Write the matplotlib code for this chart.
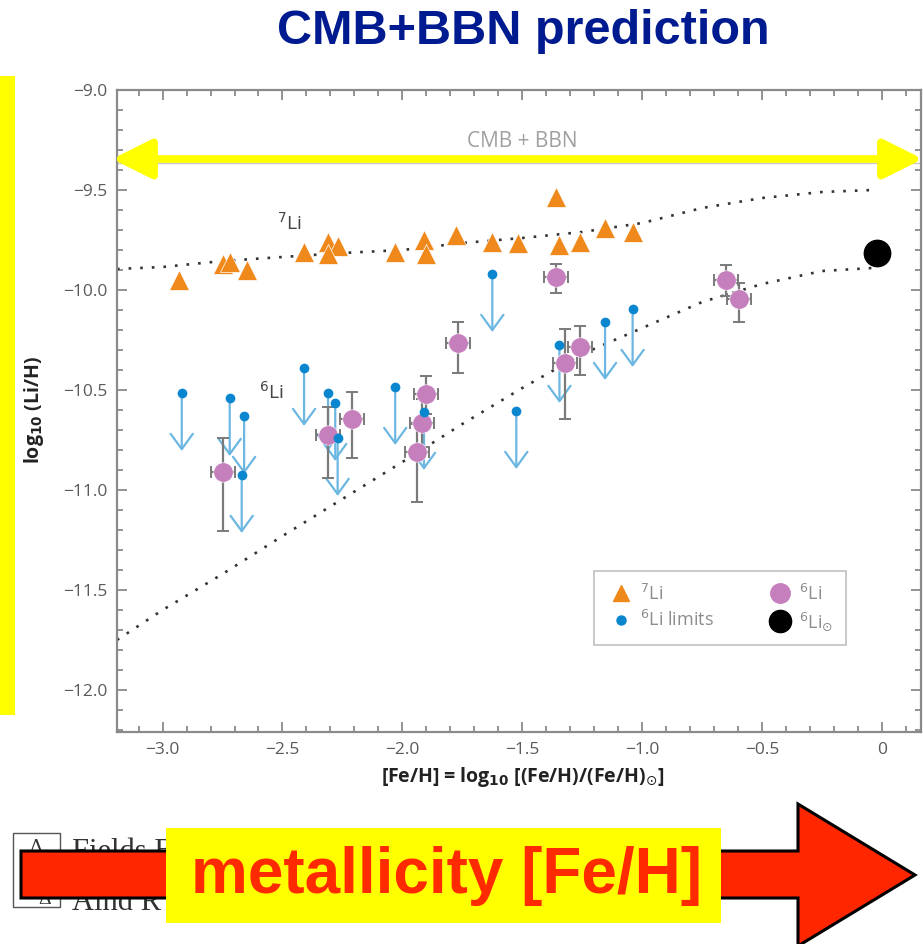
import matplotlib
matplotlib.use("Agg")
import matplotlib.pyplot as plt
from matplotlib.patches import Rectangle, Polygon
from matplotlib.lines import Line2D
from matplotlib.ticker import MultipleLocator, FixedLocator, FixedFormatter

# ---------------- data ----------------
# 7Li abundances (triangles)
li7_feh = [-2.93, -2.75, -2.72, -2.65, -2.41, -2.31, -2.27, -2.31, -2.03, -1.91, -1.90,
           -1.775, -1.625, -1.52, -1.36, -1.345, -1.26, -1.155, -1.04]
li7_val = [-9.95, -9.87, -9.86, -9.90, -9.81, -9.76, -9.78, -9.82, -9.81, -9.75, -9.82,
           -9.725, -9.76, -9.765, -9.535, -9.775, -9.76, -9.69, -9.71]

# 6Li detections with asymmetric errors
li6_feh = [-2.75, -2.31, -2.21, -1.94, -1.92, -1.90, -1.77, -1.36, -1.32, -1.26, -0.65, -0.596]
li6_val = [-10.91, -10.725, -10.645, -10.81, -10.665, -10.52, -10.265, -9.935, -10.365,
           -10.285, -9.95, -10.045]
li6_err_lo = [0.295, 0.215, 0.195, 0.25, 0.12, 0.10, 0.15, 0.08, 0.28, 0.14, 0.08, 0.115]
li6_err_hi = [0.17, 0.14, 0.135, 0.14, 0.12, 0.09, 0.105, 0.065, 0.17, 0.105, 0.075, 0.08]
li6_feh_err = 0.05

# 6Li upper limits
lim_feh = [-2.92, -2.72, -2.66, -2.67, -2.41, -2.31, -2.28, -2.27, -2.03, -1.91,
           -1.625, -1.525, -1.345, -1.155, -1.04]
lim_val = [-10.515, -10.54, -10.63, -10.925, -10.39, -10.515, -10.565, -10.74, -10.485, -10.61,
           -9.92, -10.605, -10.275, -10.16, -10.095]

# solar-system 6Li
sun_feh = [-0.02]
sun_val = [-9.815]

# chemical-evolution model curves
model_feh = [-3.19, -3.0, -2.75, -2.5, -2.25, -2.0, -1.75, -1.5, -1.25, -1.0, -0.75, -0.5, -0.25, -0.04]
model_li7 = [-9.895, -9.885, -9.855, -9.835, -9.815, -9.80, -9.765, -9.74, -9.71, -9.665,
             -9.59, -9.54, -9.51, -9.50]
model_li6 = [-11.75, -11.60, -11.42, -11.23, -11.045, -10.86, -10.67, -10.49, -10.32, -10.19,
             -10.06, -9.97, -9.905, -9.89]

cmb_bbn = -9.345

x_ticks = [-3.0, -2.5, -2.0, -1.5, -1.0, -0.5, 0.0]
x_tick_labels = ["\u22123.0", "\u22122.5", "\u22122.0", "\u22121.5", "\u22121.0", "\u22120.5", "0"]
y_ticks = [-9.0, -9.5, -10.0, -10.5, -11.0, -11.5, -12.0]
y_tick_labels = ["\u22129.0", "\u22129.5", "\u221210.0", "\u221210.5", "\u221211.0", "\u221211.5", "\u221212.0"]

# ---------------- styling ----------------
W, H = 923, 944
ORANGE = "#f0891c"
PURPLE = "#c57fbd"
BLUE_DOT = "#0a86cf"
BLUE_ARROW = "#6cb7e2"
SPINE = "#8a8a8a"
TICKTXT = "#5a5a5a"

plt.rcParams["font.family"] = ["Open Sans", "DejaVu Sans"]
plt.rcParams["mathtext.fontset"] = "dejavusans"

fig = plt.figure(figsize=(W / 100, H / 100), dpi=100)
fig.patch.set_facecolor("white")


def fx(px):
    return px / W


def fy(py):
    return 1 - py / H


ax = fig.add_axes([fx(117), fy(732), fx(921) - fx(117), fy(90) - fy(732)])
ax.set_xlim(-3.19, 0.1625)
ax.set_ylim(-12.21, -9.0)

for s in ax.spines.values():
    s.set_color(SPINE)
    s.set_linewidth(1.6)

ax.xaxis.set_major_locator(FixedLocator(x_ticks))
ax.xaxis.set_major_formatter(FixedFormatter(x_tick_labels))
ax.yaxis.set_major_locator(FixedLocator(y_ticks))
ax.yaxis.set_major_formatter(FixedFormatter(y_tick_labels))
ax.xaxis.set_minor_locator(MultipleLocator(0.1))
ax.yaxis.set_minor_locator(MultipleLocator(0.1))
ax.tick_params(which="both", direction="in", top=True, right=True, color=SPINE, width=1.3)
ax.tick_params(which="major", length=7, labelsize=12.5, labelcolor=TICKTXT, pad=7)
ax.tick_params(which="minor", length=4)

# model curves
ax.plot(model_feh, model_li7, color="#333333", lw=1.9, ls=(0, (1, 3.4)), zorder=2)
ax.plot(model_feh, model_li6, color="#333333", lw=1.9, ls=(0, (1, 3.4)), zorder=2)

# CMB + BBN level
ax.axhline(cmb_bbn - 0.02, color="#c8c8c8", lw=1.0, zorder=1)
ax.annotate("", xy=(-3.21, cmb_bbn), xytext=(0.17, cmb_bbn), xycoords="data",
            arrowprops=dict(arrowstyle="<|-|>,head_length=1.2,head_width=0.6",
                            color="#ffff00", lw=5.5, mutation_scale=20,
                            shrinkA=0, shrinkB=0),
            annotation_clip=False, zorder=3)
ax.text(-1.5, -9.26, "CMB + BBN", color="#a0a0a0", fontsize=15, ha="center", va="center")

# 6Li upper limits: dot with downward arrow
ARROW_LEN = 0.29
for xv, yv in zip(lim_feh, lim_val):
    ax.annotate("", xy=(xv, yv - ARROW_LEN), xytext=(xv, yv),
                arrowprops=dict(arrowstyle="->,head_length=0.55,head_width=0.4",
                                color=BLUE_ARROW, lw=1.6, mutation_scale=20,
                                shrinkA=0, shrinkB=0), zorder=4)

# 6Li detections
ax.errorbar(li6_feh, li6_val, yerr=[li6_err_lo, li6_err_hi], xerr=li6_feh_err,
            fmt="none", ecolor="#7a7a7a", elinewidth=1.6, capsize=4, capthick=1.4, zorder=5)
ax.plot(li6_feh, li6_val, "o", color=PURPLE, ms=14, mec="white", mew=0.4, zorder=6)

ax.plot(lim_feh, lim_val, "o", color=BLUE_DOT, ms=7, mew=0, zorder=7)

# 7Li
ax.plot(li7_feh, li7_val, "^", color=ORANGE, ms=15, mec="white", mew=0.5, zorder=8)

# solar value
ax.plot(sun_feh, sun_val, "o", color="black", ms=19, zorder=9)

# inline labels
ax.text(-2.47, -9.665, r"$^{7}$Li", color="#444444", fontsize=14, ha="center", va="center")
ax.text(-2.545, -10.51, r"$^{6}$Li", color="#444444", fontsize=14, ha="center", va="center")

# legend
handles = [
    Line2D([], [], marker="^", ls="none", color=ORANGE, ms=12),
    Line2D([], [], marker="o", ls="none", color=BLUE_DOT, ms=6.5),
    Line2D([], [], marker="o", ls="none", color=PURPLE, ms=14),
    Line2D([], [], marker="o", ls="none", color="black", ms=16),
]
labels = [r"$^{7}$Li", r"$^{6}$Li limits", r"$^{6}$Li", r"$^{6}$Li$_{\odot}$"]
leg = ax.legend(handles, labels, ncol=2, loc="center",
                bbox_to_anchor=(0.582, 0.126, 0.336, 0.134), mode="expand",
                fontsize=13, frameon=True, fancybox=False, handletextpad=0.25,
                labelspacing=0.35, borderpad=0.7, handlelength=1.6)
leg.get_frame().set_edgecolor("#bdbdbd")
leg.get_frame().set_linewidth(1.4)
for t in leg.get_texts():
    t.set_color("#8c8c8c")

# axis labels
fig.text(fx(34), fy(410), r"log$_{\mathbf{10}}$ (Li/H)", rotation=90, ha="center", va="center",
         fontsize=14, fontweight="bold", color="#222222")
fig.text(fx(523), fy(777), r"[Fe/H] = log$_{\mathbf{10}}$ [(Fe/H)/(Fe/H)$_{\odot}$]",
         ha="center", va="center", fontsize=14, fontweight="bold", color="#222222")

# title
fig.text(fx(523), fy(31), "CMB+BBN prediction", ha="center", va="center",
         fontsize=35, fontweight="bold", color="#001a8f", family="Liberation Sans")

# yellow bar at the left edge
fig.patches.append(Rectangle((0, fy(715)), fx(15), fy(76) - fy(715),
                             transform=fig.transFigure, facecolor="#ffff00",
                             edgecolor="none", zorder=1))

# caption fragment beneath the arrow
fig.patches.append(Rectangle((fx(13), fy(907)), fx(60) - fx(13), fy(833) - fy(907),
                             transform=fig.transFigure, facecolor="none",
                             edgecolor="#555555", lw=1.0, zorder=1))
fig.text(fx(36), fy(848), "\u0394", ha="center", va="center", fontsize=14,
         color="#333333", family="Liberation Serif", zorder=1)
fig.text(fx(45), fy(900), "\u0394", ha="center", va="center", fontsize=14,
         color="#333333", family="Liberation Serif", zorder=1)
fig.text(fx(72), fy(853), "Fields B", ha="left", va="center", fontsize=22,
         color="#333333", family="Liberation Serif", zorder=1)
fig.text(fx(72), fy(903), "Alnd R", ha="left", va="center", fontsize=22,
         color="#333333", family="Liberation Serif", zorder=1)

# red arrow
arrow_px = [(21, 851), (798, 851), (798, 804), (915, 875), (798, 946), (798, 898), (21, 898)]
fig.patches.append(Polygon([(fx(a), fy(b)) for a, b in arrow_px], closed=True,
                           transform=fig.transFigure, facecolor="#ff2600",
                           edgecolor="black", lw=2.2, zorder=5))

# yellow label box and text
fig.patches.append(Rectangle((fx(166), fy(923)), fx(721) - fx(166), fy(828) - fy(923),
                             transform=fig.transFigure, facecolor="#ffff00",
                             edgecolor="none", zorder=6))
fig.text(fx(447), fy(876), "metallicity [Fe/H]", ha="center", va="center",
         fontsize=46, fontweight="bold", color="#ff2a00", family="Liberation Sans", zorder=7)

fig.savefig("out.png", dpi=100)
